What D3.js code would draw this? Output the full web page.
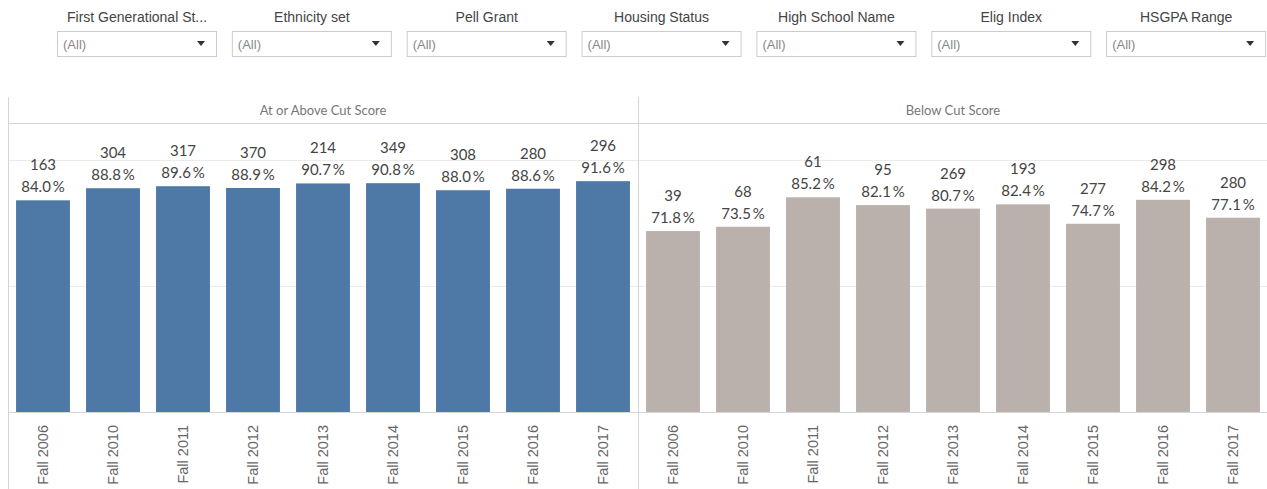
<!DOCTYPE html>
<html lang="en">
  <head>
    <meta charset="utf-8" />
    <title>Retention by Cut Score</title>
    <style>
     body { margin: 0; background: #fff; }
     svg { display: block; }
    </style>
  </head>
  <body>
    <div id="chart"></div>
    <script src="https://d3js.org/d3.v7.min.js"></script>
    <script>

     // filter titles
     var filters = ["First Generational St...", "Ethnicity set", "Pell Grant", "Housing Status",
                    "High School Name", "Elig Index", "HSGPA Range"];

     var terms = ["Fall 2006", "Fall 2010", "Fall 2011", "Fall 2012", "Fall 2013",
                  "Fall 2014", "Fall 2015", "Fall 2016", "Fall 2017"];

     var panels = ["At or Above Cut Score", "Below Cut Score"];

     // retention % and headcounts
     var abovePct = [84.0, 88.8, 89.6, 88.9, 90.7, 90.8, 88.0, 88.6, 91.6];
     var aboveN   = [163, 304, 317, 370, 214, 349, 308, 280, 296];
     var belowPct = [71.8, 73.5, 85.2, 82.1, 80.7, 82.4, 74.7, 84.2, 77.1];
     var belowN   = [39, 68, 61, 95, 269, 193, 277, 298, 280];

     var colors = ["#4e79a7", "#bab0ac"];

     var W = 1267, H = 489;
     var svg = d3.select("#chart").append("svg").attr("width", W).attr("height", H);

     // --- filter dropdowns ---
     var fx = d3.scaleBand().domain(filters).range([50, 1274]).paddingInner(0);
     var fg = svg.selectAll("g.filter").data(filters).enter().append("g")
        .attr("class", "filter")
        .attr("transform", function(d) { return "translate(" + (fx(d) + 7) + ",0)"; });

     fg.append("text")
        .attr("x", 80).attr("y", 22)
        .attr("text-anchor", "middle")
        .attr("font-family", "Liberation Sans, Arial, sans-serif")
        .attr("font-size", 14).attr("fill", "#444")
        .text(function(d) { return d; });

     fg.append("rect")
        .attr("x", 0.5).attr("y", 31.5).attr("width", 159).attr("height", 25)
        .attr("fill", "#fff").attr("stroke", "#ccc");

     fg.append("text")
        .attr("x", 6).attr("y", 49)
        .attr("font-family", "Liberation Sans, Arial, sans-serif")
        .attr("font-size", 13).attr("fill", "#888")
        .text("(All)");

     fg.append("path")
        .attr("d", "M140,41 L148,41 L144,46 Z")
        .attr("fill", "#333");

     // --- chart panels ---
     var left = 8, right = 1267, headTop = 97, headBot = 123, base = 412;
     var px = d3.scaleBand().domain(panels).range([left, left + 1260]);
     var y = d3.scaleLinear().domain([0, 100]).range([base, 160]);

     // gridlines
     svg.selectAll("line.grid").data([50, 100]).enter().append("line")
        .attr("x1", left).attr("x2", right)
        .attr("y1", function(d) { return y(d) + 0.5; })
        .attr("y2", function(d) { return y(d) + 0.5; })
        .attr("stroke", "#ebebeb");

     // frame lines
     svg.append("line").attr("x1", left).attr("x2", right).attr("y1", headBot + 0.5).attr("y2", headBot + 0.5).attr("stroke", "#d4d4d4");
     svg.append("line").attr("x1", left).attr("x2", right).attr("y1", base + 0.5).attr("y2", base + 0.5).attr("stroke", "#d4d4d4");
     svg.append("line").attr("x1", left + 0.5).attr("x2", left + 0.5).attr("y1", headTop).attr("y2", H).attr("stroke", "#d4d4d4");
     svg.append("line").attr("x1", px(panels[1]) + 0.5).attr("x2", px(panels[1]) + 0.5).attr("y1", headTop).attr("y2", H).attr("stroke", "#d4d4d4");

     var series = [
       { pct: abovePct, n: aboveN },
       { pct: belowPct, n: belowN }
     ];

     panels.forEach(function(p, i) {
       var g = svg.append("g");
       var x = d3.scaleBand().domain(terms)
          .range([px(p), px(p) + px.bandwidth()])
          .paddingInner(0.23).paddingOuter(0.115);

       g.append("text")
          .attr("x", px(p) + px.bandwidth() / 2).attr("y", 115)
          .attr("text-anchor", "middle")
          .attr("font-family", "Lato, sans-serif")
          .attr("font-size", 13).attr("fill", "#777")
          .text(p);

       var rows = terms.map(function(t, j) { return { term: t, pct: series[i].pct[j], n: series[i].n[j] }; });

       g.selectAll("rect.bar").data(rows).enter().append("rect")
          .attr("x", function(d) { return x(d.term); })
          .attr("width", x.bandwidth())
          .attr("y", function(d) { return y(d.pct); })
          .attr("height", function(d) { return base - y(d.pct); })
          .attr("fill", colors[i]);

       var lab = g.selectAll("text.lab").data(rows).enter().append("text")
          .attr("text-anchor", "middle")
          .attr("font-family", "Lato, sans-serif")
          .attr("font-size", 15).attr("fill", "#444")
          .attr("x", function(d) { return x(d.term) + x.bandwidth() / 2; });
       lab.append("tspan")
          .attr("x", function(d) { return x(d.term) + x.bandwidth() / 2; })
          .attr("y", function(d) { return y(d.pct) - 30; })
          .text(function(d) { return d.n; });
       lab.append("tspan")
          .attr("x", function(d) { return x(d.term) + x.bandwidth() / 2; })
          .attr("y", function(d) { return y(d.pct) - 8; })
          .text(function(d) { return d.pct.toFixed(1) + "\u2009%"; });

       // rotated axis labels
       g.selectAll("text.tick").data(terms).enter().append("text")
          .attr("transform", function(d) { return "translate(" + (x(d) + x.bandwidth() / 2 + 5) + "," + (base + 13) + ") rotate(-90)"; })
          .attr("text-anchor", "end")
          .attr("font-family", "Liberation Sans, Arial, sans-serif")
          .attr("font-size", 14.5).attr("fill", "#666")
          .text(function(d) { return d; });
     });

    </script>
  </body>
</html>
